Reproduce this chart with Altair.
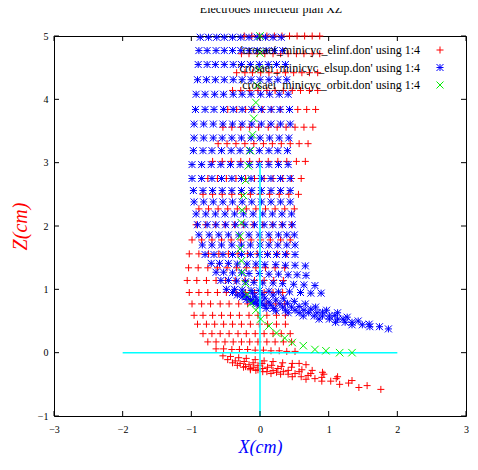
import altair as alt
import pandas as pd

TITLE = "Electrodes inflecteur plan XZ"
X_TICKS = [-3, -2, -1, 0, 1, 2, 3]
Z_TICKS = [-1, 0, 1, 2, 3, 4, 5]
LEGEND = ["'crosaei_minicyc_elinf.don' using 1:4",
          "'crosaei_minicyc_elsup.don' using 1:4",
          "'crosaei_minicyc_orbit.don' using 1:4"]

# ---- lower electrode (elinf), one list per mesh row ----
ELINF_X = [
    [-0.23, -0.12, -0.01, 0.10, 0.21, 0.32, 0.43, 0.54, 0.65, 0.76, 0.87],
    [-0.27, -0.16, -0.04, 0.07, 0.19, 0.30, 0.41, 0.53, 0.64, 0.76, 0.87],
    [-0.34, -0.22, -0.11, 0.01, 0.13, 0.25, 0.37, 0.49, 0.61, 0.72, 0.84],
    [-0.40, -0.28, -0.15, -0.03, 0.10, 0.22, 0.34, 0.47, 0.59, 0.72, 0.84],
    [-0.47, -0.34, -0.21, -0.09, 0.04, 0.17, 0.30, 0.43, 0.55, 0.68, 0.81],
    [-0.54, -0.41, -0.28, -0.15, -0.02, 0.12, 0.25, 0.38, 0.51, 0.64, 0.77],
    [-0.61, -0.48, -0.35, -0.22, -0.09, 0.05, 0.18, 0.31, 0.44, 0.57, 0.70],
    [-0.69, -0.55, -0.42, -0.28, -0.15, -0.01, 0.12, 0.26, 0.39, 0.53, 0.66],
    [-0.76, -0.62, -0.49, -0.35, -0.21, -0.08, 0.06, 0.19, 0.33, 0.46, 0.60],
    [-0.83, -0.69, -0.55, -0.41, -0.27, -0.14, 0.00, 0.14, 0.28, 0.42, 0.56],
    [-0.89, -0.75, -0.61, -0.47, -0.33, -0.20, -0.06, 0.08, 0.22, 0.36, 0.50],
    [-0.93, -0.79, -0.65, -0.51, -0.37, -0.24, -0.10, 0.04, 0.18, 0.32, 0.46],
    [-0.99, -0.85, -0.70, -0.56, -0.42, -0.28, -0.13, 0.01, 0.15, 0.30, 0.44],
    [-1.03, -0.89, -0.75, -0.60, -0.46, -0.32, -0.18, -0.04, 0.11, 0.25, 0.39],
    [-1.04, -0.90, -0.76, -0.62, -0.48, -0.34, -0.20, -0.06, 0.08, 0.22, 0.36],
    [-1.06, -0.92, -0.78, -0.64, -0.50, -0.36, -0.22, -0.08, 0.06, 0.20, 0.34],
    [-1.03, -0.89, -0.76, -0.62, -0.49, -0.35, -0.21, -0.08, 0.06, 0.19, 0.33],
    [-0.99, -0.85, -0.72, -0.58, -0.45, -0.31, -0.18, -0.04, 0.09, 0.23, 0.36],
    [-0.96, -0.83, -0.69, -0.56, -0.43, -0.30, -0.16, -0.03, 0.10, 0.24, 0.37],
    [-0.91, -0.78, -0.66, -0.53, -0.40, -0.27, -0.14, -0.01, 0.11, 0.24, 0.37],
    [-0.83, -0.70, -0.58, -0.45, -0.32, -0.20, -0.07, 0.06, 0.19, 0.31, 0.44],
    [-0.76, -0.64, -0.51, -0.39, -0.27, -0.15, -0.03, 0.10, 0.22, 0.34, 0.46],
    [-0.64, -0.53, -0.41, -0.30, -0.18, -0.07, 0.05, 0.16, 0.28, 0.39, 0.51],
    [-0.54, -0.43, -0.31, -0.20, -0.07, 0.06, 0.19, 0.33, 0.47, 0.57, 0.67],
    [-0.47, -0.36, -0.23, -0.10, 0.03, 0.17, 0.31, 0.46, 0.61, 0.76, 0.91],
    [-0.40, -0.29, -0.16, -0.03, 0.11, 0.26, 0.41, 0.57, 0.74, 0.93, 1.13],
    [-0.33, -0.21, -0.09, 0.04, 0.19, 0.34, 0.51, 0.70, 0.90, 1.11, 1.34],
    [-0.24, -0.14, -0.03, 0.10, 0.24, 0.41, 0.60, 0.80, 1.03, 1.29, 1.56],
    [-0.14, -0.06, 0.04, 0.16, 0.30, 0.47, 0.67, 0.90, 1.16, 1.44, 1.76],
]
ELINF_Z = [
    5.00, 4.72, 4.42, 4.14, 3.84, 3.56, 3.30, 3.02, 2.75, 2.50, 2.27, 2.02,
    1.78, 1.56, 1.34, 1.14, 0.95, 0.77, 0.59, 0.45, 0.30, 0.17,
    [0.06, 0.06, 0.05, 0.05, 0.05, 0.04, 0.04, 0.03, 0.03, 0.02, 0.02],
    [-0.05, -0.06, -0.08, -0.09, -0.11, -0.13, -0.14, -0.16, -0.17, -0.17, -0.19],
    [-0.11, -0.13, -0.14, -0.16, -0.17, -0.20, -0.22, -0.23, -0.27, -0.28, -0.31],
    [-0.16, -0.17, -0.19, -0.20, -0.23, -0.25, -0.28, -0.30, -0.33, -0.34, -0.38],
    [-0.20, -0.22, -0.23, -0.25, -0.28, -0.30, -0.33, -0.36, -0.39, -0.41, -0.44],
    [-0.23, -0.25, -0.27, -0.30, -0.31, -0.34, -0.38, -0.41, -0.45, -0.48, -0.52],
    [-0.27, -0.28, -0.30, -0.33, -0.34, -0.38, -0.42, -0.45, -0.50, -0.55, -0.58],
]

# ---- upper electrode (elsup) ----
ELSUP_X = [
    [-0.87, -0.75, -0.63, -0.52, -0.40, -0.28, -0.16, -0.04, 0.08, 0.19, 0.31],
    [-0.89, -0.77, -0.64, -0.52, -0.40, -0.28, -0.16, -0.04, 0.09, 0.21, 0.33],
    [-0.90, -0.77, -0.65, -0.52, -0.39, -0.27, -0.14, -0.01, 0.12, 0.24, 0.37],
    [-0.91, -0.78, -0.65, -0.52, -0.39, -0.26, -0.13, 0.00, 0.13, 0.26, 0.39],
    [-0.93, -0.80, -0.66, -0.53, -0.39, -0.26, -0.13, 0.01, 0.14, 0.28, 0.41],
    [-0.94, -0.80, -0.67, -0.53, -0.39, -0.26, -0.12, 0.02, 0.16, 0.29, 0.43],
    [-0.96, -0.82, -0.68, -0.54, -0.40, -0.26, -0.12, 0.02, 0.16, 0.30, 0.44],
    [-0.96, -0.82, -0.68, -0.55, -0.41, -0.27, -0.13, 0.00, 0.14, 0.28, 0.42],
    [-0.97, -0.83, -0.70, -0.56, -0.42, -0.29, -0.15, -0.01, 0.13, 0.26, 0.40],
    [-0.99, -0.85, -0.71, -0.57, -0.43, -0.29, -0.15, -0.01, 0.13, 0.27, 0.41],
    [-0.99, -0.85, -0.70, -0.56, -0.41, -0.27, -0.13, 0.02, 0.16, 0.30, 0.44],
    [-0.97, -0.83, -0.69, -0.55, -0.41, -0.27, -0.12, 0.02, 0.16, 0.30, 0.44],
    [-0.96, -0.82, -0.68, -0.54, -0.40, -0.26, -0.12, 0.02, 0.16, 0.30, 0.44],
    [-0.93, -0.79, -0.65, -0.51, -0.37, -0.24, -0.10, 0.04, 0.18, 0.32, 0.46],
    [-0.91, -0.77, -0.64, -0.50, -0.36, -0.22, -0.08, 0.06, 0.19, 0.33, 0.47],
    [-0.89, -0.74, -0.60, -0.46, -0.31, -0.16, -0.01, 0.13, 0.27, 0.39, 0.50],
    [-0.84, -0.70, -0.56, -0.41, -0.27, -0.14, 0.00, 0.13, 0.26, 0.39, 0.51],
    [-0.80, -0.67, -0.54, -0.40, -0.27, -0.14, -0.01, 0.11, 0.24, 0.37, 0.51],
    [-0.71, -0.59, -0.46, -0.33, -0.19, -0.06, 0.07, 0.23, 0.37, 0.51, 0.66],
    [-0.64, -0.53, -0.40, -0.27, -0.16, -0.01, 0.13, 0.27, 0.41, 0.54, 0.67],
    [-0.57, -0.46, -0.34, -0.21, -0.09, 0.04, 0.19, 0.33, 0.49, 0.64, 0.80],
    [-0.49, -0.37, -0.26, -0.13, -0.01, 0.13, 0.27, 0.43, 0.59, 0.74, 0.89],
    [-0.40, -0.26, -0.11, 0.03, 0.19, 0.34, 0.50, 0.66, 0.81, 0.97, 1.13],
    [-0.33, -0.20, -0.07, 0.07, 0.23, 0.40, 0.57, 0.74, 0.91, 1.09, 1.27],
    [-0.26, -0.14, -0.01, 0.13, 0.29, 0.46, 0.64, 0.83, 1.01, 1.21, 1.43],
    [-0.20, -0.10, 0.01, 0.16, 0.33, 0.51, 0.71, 0.91, 1.13, 1.34, 1.59],
    [-0.14, -0.06, 0.06, 0.20, 0.37, 0.57, 0.79, 1.01, 1.24, 1.49, 1.74],
    [-0.09, -0.01, 0.09, 0.23, 0.41, 0.63, 0.86, 1.10, 1.34, 1.60, 1.87],
]
ELSUP_Z = [
    4.98, 4.77, 4.55, 4.31, 4.08, 3.84, 3.61, 3.39, 3.19, 2.97, 2.75, 2.56,
    2.38, 2.19, 2.02, 1.86, 1.70, 1.55,
    [1.41, 1.41, 1.41, 1.40, 1.40, 1.40, 1.39, 1.39, 1.38, 1.38, 1.37],
    [1.27, 1.27, 1.26, 1.26, 1.25, 1.25, 1.24, 1.24, 1.23, 1.23, 1.22],
    [1.14, 1.14, 1.13, 1.12, 1.11, 1.10, 1.10, 1.09, 1.08, 1.07, 1.06],
    [1.00, 1.00, 0.99, 0.98, 0.98, 0.97, 0.96, 0.96, 0.95, 0.94, 0.94],
    [0.95, 0.94, 0.94, 0.92, 0.91, 0.86, 0.81, 0.77, 0.72, 0.67, 0.63],
    [0.91, 0.89, 0.88, 0.86, 0.83, 0.78, 0.73, 0.69, 0.64, 0.59, 0.56],
    [0.88, 0.84, 0.83, 0.80, 0.77, 0.72, 0.67, 0.63, 0.58, 0.53, 0.50],
    [0.84, 0.81, 0.78, 0.75, 0.72, 0.67, 0.63, 0.58, 0.53, 0.48, 0.45],
    [0.83, 0.78, 0.75, 0.70, 0.67, 0.63, 0.58, 0.53, 0.48, 0.44, 0.41],
    [0.80, 0.75, 0.70, 0.66, 0.63, 0.58, 0.53, 0.48, 0.44, 0.41, 0.375],
]

# ---- orbit ----
ORBIT_X = [0.00, 0.00, -0.01, -0.04, -0.06, -0.09, -0.11, -0.14, -0.17, -0.21,
           -0.24, -0.26, -0.27, -0.29, -0.29, -0.27, -0.26, -0.21, -0.19, -0.13,
           -0.06, 0.01, 0.13, 0.24, 0.36, 0.47, 0.63, 0.80, 0.96, 1.16, 1.34]
ORBIT_Z = [5.00, 4.73, 4.48, 4.22, 3.95, 3.70, 3.44, 3.19, 2.95, 2.72,
           2.48, 2.25, 2.05, 1.84, 1.64, 1.45, 1.27, 1.09, 0.92, 0.78,
           0.67, 0.53, 0.42, 0.31, 0.23, 0.16, 0.11, 0.05, 0.03, 0.00, 0.00]

# ---- cyan reference lines ----
HLINE_X = [-2, 2]
HLINE_Z = [0, 0]
VLINE_X = [0, 0]
VLINE_Z = [-1, 3]


def mesh(xrows, zrows):
    recs = []
    for r, (xs, zs) in enumerate(zip(xrows, zrows)):
        if not isinstance(zs, list):
            zs = [zs] * len(xs)
        for x, z in zip(xs, zs):
            recs.append({"x": x, "z": z, "row": r})
    return pd.DataFrame(recs)


W, H = 412, 380
SERIF = "Liberation Serif"

xscale = alt.Scale(domain=[-3, 3], nice=False, zero=False)
zscale = alt.Scale(domain=[-1, 5], nice=False, zero=False)
xaxis = alt.Axis(values=X_TICKS, format="d", tickSize=0, domain=False, grid=False,
                 labelFlush=False, labelOverlap=False, labelPadding=8,
                 labelFont=SERIF, labelFontSize=10, labelColor="#000",
                 title="X(cm)", titleFont=SERIF, titleFontSize=18,
                 titleFontStyle="italic", titleFontWeight="normal",
                 titleColor="#0000ff", titleX=W / 2, titleY=31,
                 titleAlign="center", titleBaseline="middle")
zaxis = alt.Axis(values=Z_TICKS, format="d", tickSize=0, domain=False, grid=False,
                 labelFlush=False, labelOverlap=False, labelPadding=6,
                 labelFont=SERIF, labelFontSize=10, labelColor="#000",
                 title="Z(cm)", titleFont=SERIF, titleFontSize=20,
                 titleFontStyle="italic", titleFontWeight="normal",
                 titleColor="#ff0000", titleX=-34, titleY=H / 2, titleAngle=270,
                 titleAlign="center", titleBaseline="middle")


def X(f="x"):
    return alt.X(f"{f}:Q", scale=xscale, axis=xaxis)


def Z(f="z"):
    return alt.Y(f"{f}:Q", scale=zscale, axis=zaxis)


PLUS = "M-1,0L1,0M0,-1L0,1"
STAR = "M-1,0L1,0M0,-1L0,1M-1,-1L1,1M-1,1L1,-1"
CROSS = "M-1,-1L1,1M-1,1L1,-1"

red = alt.Chart(mesh(ELINF_X, ELINF_Z)).mark_point(
    shape=PLUS, filled=False, size=49, strokeWidth=1, opacity=1, color="#ff0000"
).encode(x=X(), y=Z())

blue = alt.Chart(mesh(ELSUP_X, ELSUP_Z)).mark_point(
    shape=STAR, filled=False, size=49, strokeWidth=1, opacity=1, color="#0000ff"
).encode(x=X(), y=Z())

green = alt.Chart(pd.DataFrame({"x": ORBIT_X, "z": ORBIT_Z})).mark_point(
    shape=CROSS, filled=False, size=56, strokeWidth=1, opacity=1, color="#00ee00"
).encode(x=X(), y=Z())

hline = alt.Chart(pd.DataFrame({"x": HLINE_X, "z": HLINE_Z})).mark_line(
    color="#00ffff", strokeWidth=1.5).encode(x=X(), y=Z())
vline = alt.Chart(pd.DataFrame({"x": VLINE_X, "z": VLINE_Z})).mark_line(
    color="#00ffff", strokeWidth=1.5).encode(x=X(), y=Z())

xt = pd.DataFrame({"v": X_TICKS})
zt = pd.DataFrame({"v": Z_TICKS})
tick_b = alt.Chart(xt).mark_rule(color="#000").encode(x=X("v"), y=alt.value(H), y2=alt.value(H - 5))
tick_t = alt.Chart(xt).mark_rule(color="#000").encode(x=X("v"), y=alt.value(0), y2=alt.value(5))
tick_l = alt.Chart(zt).mark_rule(color="#000").encode(y=Z("v"), x=alt.value(0), x2=alt.value(5))
tick_r = alt.Chart(zt).mark_rule(color="#000").encode(y=Z("v"), x=alt.value(W), x2=alt.value(W - 5))

title = alt.Chart(pd.DataFrame({"t": [TITLE]})).mark_text(
    font=SERIF, fontSize=12, align="center", baseline="alphabetic", color="#000"
).encode(text="t:N", x=alt.value(217), y=alt.value(-23))

legend_layers = []
leg_colors = ["#ff0000", "#0000ff", "#00ee00"]
leg_shapes = [PLUS, STAR, CROSS]
for i, lab in enumerate(LEGEND):
    yy = 14 + i * 17.5
    legend_layers.append(
        alt.Chart(pd.DataFrame({"t": [lab]})).mark_text(
            font=SERIF, fontSize=12, align="right", baseline="middle", color="#000"
        ).encode(text="t:N", x=alt.value(366), y=alt.value(yy))
    )
    legend_layers.append(
        alt.Chart(pd.DataFrame({"t": [lab]})).mark_point(
            shape=leg_shapes[i], filled=False, size=49, strokeWidth=1, opacity=1,
            color=leg_colors[i]
        ).encode(x=alt.value(386), y=alt.value(yy))
    )

chart = alt.layer(
    red, blue, hline, vline, green, tick_b, tick_t, tick_l, tick_r, title,
    *legend_layers
).properties(
    width=W, height=H, autosize="none",
    padding={"left": 46, "top": 28, "right": 4, "bottom": 40},
    background="white",
).configure_view(stroke="#000", strokeWidth=1)

chart.save("out.html", embed_options={"renderer": "svg", "actions": False})
